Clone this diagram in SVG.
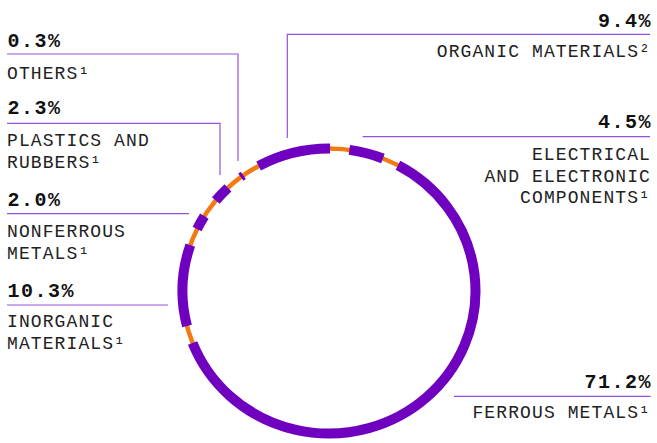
<svg xmlns="http://www.w3.org/2000/svg" width="657" height="443" viewBox="0 0 657 443">
<style>
.pct{font-family:"Liberation Mono","DejaVu Sans Mono",monospace;font-weight:bold;font-size:20px;letter-spacing:1.5px;fill:#111}
.lbl{font-family:"Liberation Mono","DejaVu Sans Mono",monospace;font-size:18px;letter-spacing:1.1px;fill:#222}
.r{text-anchor:end}
.seg{fill:none;stroke:#6F00BF;stroke-width:10;stroke-linecap:butt}
.ln{fill:none;stroke:#9352DE;stroke-width:1.2}
</style>
<rect width="657" height="443" fill="#fff"/>
<g id="ring">
<ellipse cx="329" cy="291" rx="146.5" ry="142.5" fill="none" stroke="#F27A12" stroke-width="4.5"/>
<path id="seg-organic" class="seg" d="M258.65,166.01 A146.5,142.5 0 0 1 330.02,148.5"/>
<path id="seg-electrical" class="seg" d="M349.39,149.89 A146.5,142.5 0 0 1 382.93,158.5"/>
<path id="seg-ferrous" class="seg" d="M398,165.3 A146.5,142.5 0 1 1 192.59,343"/>
<path id="seg-inorganic" class="seg" d="M186.98,325.96 A146.5,142.5 0 0 1 190.32,245.07"/>
<path id="seg-nonferrous" class="seg" d="M197.11,228.98 A146.5,142.5 0 0 1 204.36,216.12"/>
<path id="seg-plastics" class="seg" d="M215.8,200.56 A146.5,142.5 0 0 1 227.97,187.8"/>
<path id="seg-others" class="seg" d="M240.84,177.2 A146.5,142.5 0 0 1 243.3,175.42" style="stroke-width:9"/>
</g>
<g id="connectors">
<path class="ln" d="M7,54 H238 V161"/>
<path class="ln" d="M7,123.3 H220 V175"/>
<path class="ln" d="M7,213.7 H189"/>
<path class="ln" d="M7,305 H168"/>
<path class="ln" d="M650,34.3 H287.3 V138"/>
<path class="ln" d="M650,136.7 H362.7"/>
<path class="ln" d="M650.5,396.3 H454"/>
</g>
<g id="node-others">
<text class="pct" x="7.5" y="46.5">0.3%</text>
<text class="lbl" x="7" y="78.5">OTHERS¹</text>
</g>
<g id="node-plastics">
<text class="pct" x="7.5" y="114">2.3%</text>
<text class="lbl" x="7" y="146">PLASTICS AND</text>
<text class="lbl" x="7" y="168">RUBBERS¹</text>
</g>
<g id="node-nonferrous">
<text class="pct" x="7.5" y="206">2.0%</text>
<text class="lbl" x="7" y="237.3">NONFERROUS</text>
<text class="lbl" x="7" y="259.3">METALS¹</text>
</g>
<g id="node-inorganic">
<text class="pct" x="7.5" y="296.7">10.3%</text>
<text class="lbl" x="7" y="326.7">INORGANIC</text>
<text class="lbl" x="7" y="349">MATERIALS¹</text>
</g>
<g id="node-organic">
<text class="pct r" x="652" y="26.5">9.4%</text>
<text class="lbl r" x="651" y="56.7">ORGANIC MATERIALS²</text>
</g>
<g id="node-electrical">
<text class="pct r" x="652" y="128.3">4.5%</text>
<text class="lbl r" x="651" y="160">ELECTRICAL</text>
<text class="lbl r" x="651" y="181.7">AND ELECTRONIC</text>
<text class="lbl r" x="651" y="203.3">COMPONENTS¹</text>
</g>
<g id="node-ferrous">
<text class="pct r" x="652" y="388.3">71.2%</text>
<text class="lbl r" x="651" y="418.3">FERROUS METALS¹</text>
</g>
</svg>
